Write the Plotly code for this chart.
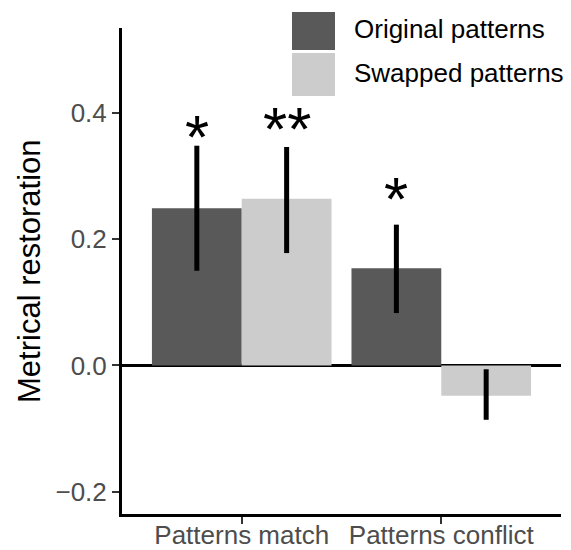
import plotly.graph_objects as go

categories = ["Patterns match", "Patterns conflict"]
series_names = ["Original patterns", "Swapped patterns"]
original = [0.249, 0.154]
swapped = [0.264, -0.048]
original_upper = [0.348, 0.223]
original_lower = [0.150, 0.083]
swapped_upper = [0.346, -0.006]
swapped_lower = [0.178, -0.086]
original_sig = ["*", "*"]
swapped_sig = ["**", ""]
original_sig_y = [0.373, 0.276]
swapped_sig_y = [0.387, None]
y_tickvals = [-0.2, 0.0, 0.2, 0.4]
y_ticktext = ["\u22120.2", "0.0", "0.2", "0.4"]

DARK = "#595959"
LIGHT = "#cccccc"
FONT = "Liberation Sans, Arial, Helvetica, sans-serif"

W, H = 571, 550
L, R, T, B = 122, 10, 28, 36
PW, PH = W - L - R, H - T - B


def px_x(px):
    return (px - L) / PW


def px_y(py):
    return (H - B - py) / PH


fig = go.Figure()
for name, vals, up, lo, col in [
    (series_names[0], original, original_upper, original_lower, DARK),
    (series_names[1], swapped, swapped_upper, swapped_lower, LIGHT),
]:
    fig.add_trace(go.Bar(
        x=categories, y=vals, name=name, marker=dict(color=col, line=dict(width=0)),
        error_y=dict(type="data", symmetric=False,
                     array=[u - v for u, v in zip(up, vals)],
                     arrayminus=[v - l for v, l in zip(vals, lo)],
                     color="black", thickness=5, width=0),
        showlegend=False,
    ))

annotations = []
bar_offset = 0.225
for i in range(len(categories)):
    for sig, sy, off in [(original_sig[i], original_sig_y[i], -bar_offset),
                         (swapped_sig[i], swapped_sig_y[i], bar_offset)]:
        if sig and sy is not None:
            annotations.append(dict(x=i + off, y=sy, xref="x", yref="y", text=sig,
                                    showarrow=False, yanchor="middle", yshift=-7,
                                    font=dict(family=FONT, size=62, color="black")))

# y-axis title
annotations.append(dict(x=px_x(29), y=0.5, xref="paper", yref="paper",
                        text="Metrical restoration", textangle=-90, showarrow=False,
                        xanchor="center", yanchor="middle",
                        font=dict(family=FONT, size=31, color="black")))

# custom legend
shapes = []
leg_items = [(series_names[0], DARK, 12, 50), (series_names[1], LIGHT, 53, 96)]
for name, col, y0, y1 in leg_items:
    shapes.append(dict(type="rect", xref="paper", yref="paper",
                       x0=px_x(292), x1=px_x(335), y0=px_y(y1), y1=px_y(y0),
                       fillcolor=col, line=dict(width=0), layer="above"))
    annotations.append(dict(x=px_x(352), y=px_y((y0 + y1) / 2 - 2), xref="paper", yref="paper",
                            text=name, showarrow=False, xanchor="left", yanchor="middle",
                            font=dict(family=FONT, size=26, color="black")))

fig.update_layout(
    width=W, height=H,
    margin=dict(l=L, r=R, t=T, b=B, pad=0, autoexpand=False),
    paper_bgcolor="white", plot_bgcolor="white",
    barmode="group", bargap=0.1, bargroupgap=0,
    font=dict(family=FONT, size=26, color="#4d4d4d"),
    annotations=annotations, shapes=shapes,
    xaxis=dict(type="category", range=[-0.6, 1.6], showline=True, linecolor="black",
               linewidth=3, ticks="outside", ticklen=7, tickwidth=2, tickcolor="#333333",
               tickfont=dict(family=FONT, size=26, color="#4d4d4d"), automargin=False,
               ticklabelstandoff=-11,
               showgrid=False, zeroline=False, fixedrange=True),
    yaxis=dict(range=[-0.2352, 0.5344], tickvals=y_tickvals, ticktext=y_ticktext,
               showline=True, linecolor="black", linewidth=3, ticks="outside",
               ticklen=7, tickwidth=2, tickcolor="#333333", automargin=False,
               tickfont=dict(family=FONT, size=26, color="#4d4d4d"),
               showgrid=False, zeroline=True, zerolinecolor="black", zerolinewidth=2.5),
)

fig.write_html("out.html", config={"displayModeBar": False},
               post_script="document.body.style.margin='0';document.body.style.overflow='hidden';")
